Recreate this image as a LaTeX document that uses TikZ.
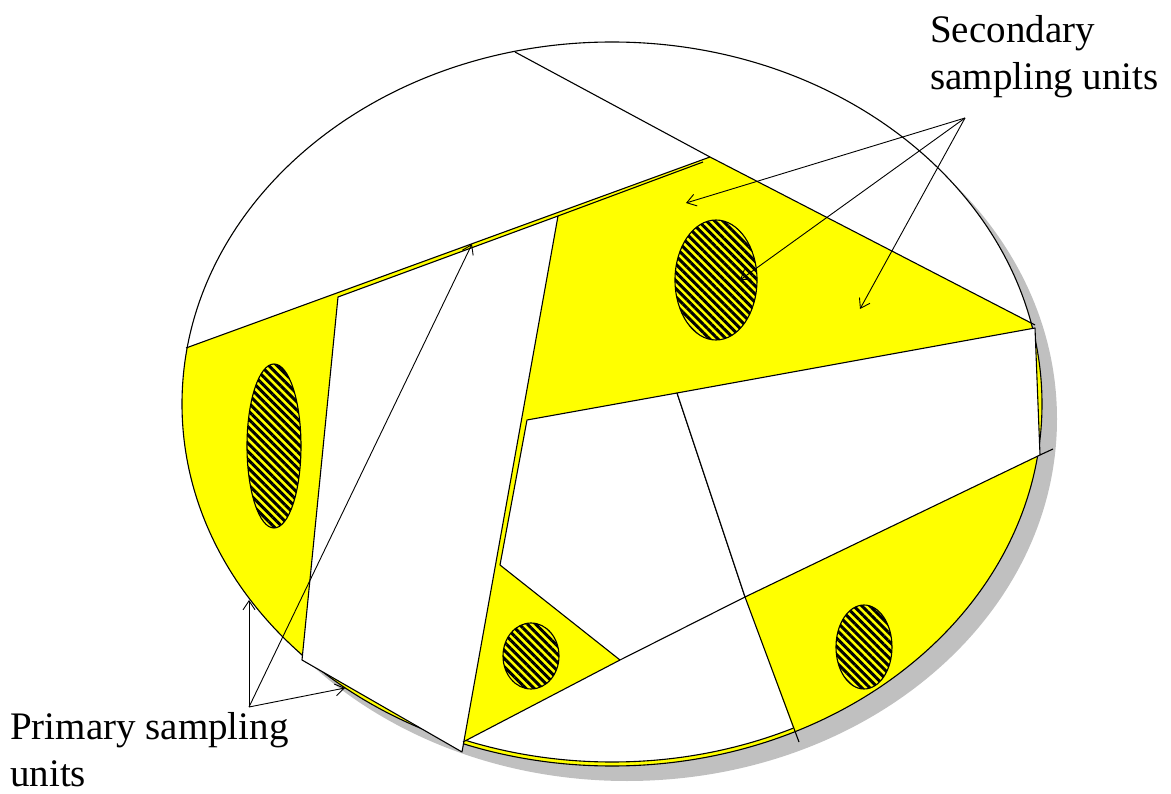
\documentclass[tikz,border=0pt]{standalone}
\usepackage{fontspec}
\setmainfont{Liberation Serif}
\usetikzlibrary{arrows.meta,patterns.meta}
\definecolor{yel}{RGB}{255,255,0}
\definecolor{shadowgray}{RGB}{192,192,192}
\def\myell{(612,404) ellipse [x radius=430, y radius=362]}
\begin{document}
\begin{tikzpicture}[x=1pt,y=-1pt, line join=round,
  edge/.style={draw=black, line width=1.1pt},
  stripes/.style={pattern={Lines[angle=-45,distance=5.8pt,line width=3pt]}, pattern color=black},
  ptr/.style={line width=0.9pt, -{Straight Barb[length=9pt,width=12pt,line width=0.9pt]}},
  lbl/.style={font=\fontsize{39}{47}\selectfont, align=left, inner sep=0pt}]
\useasboundingbox (0,0) rectangle (1171,794);
% shadow and base
\fill[shadowgray] (627,419) ellipse [x radius=430, y radius=362];
\fill[yel] \myell;
% top white pieces
\begin{scope}
  \clip \myell;
  \fill[white] (186,348) -- (710,157) -- (1035,325) -- (1200,325) -- (1200,-20) -- (-20,-20) -- (-20,348) -- cycle;
\end{scope}
% bottom white piece
\begin{scope}
  \clip (463,742) -- (620,660) -- (745,597) -- (798,742) -- (820,800) -- (440,800) -- cycle;
  \filldraw[fill=white, edge] (612,403) ellipse [x radius=427, y radius=359];
\end{scope}
\draw[edge] \myell;
% white primary units
\filldraw[fill=white, edge] (338,297) -- (558,216) -- (462,752) -- (302,660) -- cycle;
\filldraw[fill=white, edge] (527,420) -- (677,393) -- (745,597) -- (620,660) -- (500,565) -- cycle;
\filldraw[fill=white, edge] (677,393) -- (1035,328) -- (1040,455) -- (745,597) -- cycle;
% dividing lines
\draw[edge] (186,348) -- (710,157) -- (1035,325);
\draw[edge] (515,52) -- (710,157);
\draw[edge] (558,216) -- (703,162);
\draw[edge] (1040,455) -- (1053,449);
\draw[edge] (745,597) -- (799,742);
\draw[edge] (620,660) -- (463,742);
% secondary units (hatched)
\foreach \c/\rx/\ry in {{(716,280)}/41/60, {(274,446)}/27/82, {(531,656)}/28/33, {(864,647)}/28/42}{
  \fill[yel] \c ellipse [x radius=\rx, y radius=\ry];
  \fill[stripes] \c ellipse [x radius=\rx, y radius=\ry];
  \draw[edge] \c ellipse [x radius=\rx, y radius=\ry];
}
% labels
\node[lbl, anchor=base west] (sec) at (930,90) {Secondary\\sampling units};
\node[lbl, anchor=base west] (prim) at (10,786) {Primary sampling\\units};
% pointers
\coordinate (so) at (965,118);
\coordinate (s1) at (686,203);
\coordinate (s2) at (740,280);
\coordinate (s3) at (860,309);
\draw[ptr] (so) -- (s1);
\draw[ptr] (so) -- (s2);
\draw[ptr] (so) -- (s3);
\coordinate (po) at (249,707);
\coordinate (p1) at (249,600);
\coordinate (p2) at (472,244);
\coordinate (p3) at (345,688);
\draw[ptr] (po) -- (p1);
\draw[ptr] (po) -- (p2);
\draw[ptr] (po) -- (p3);
\end{tikzpicture}
\end{document}
